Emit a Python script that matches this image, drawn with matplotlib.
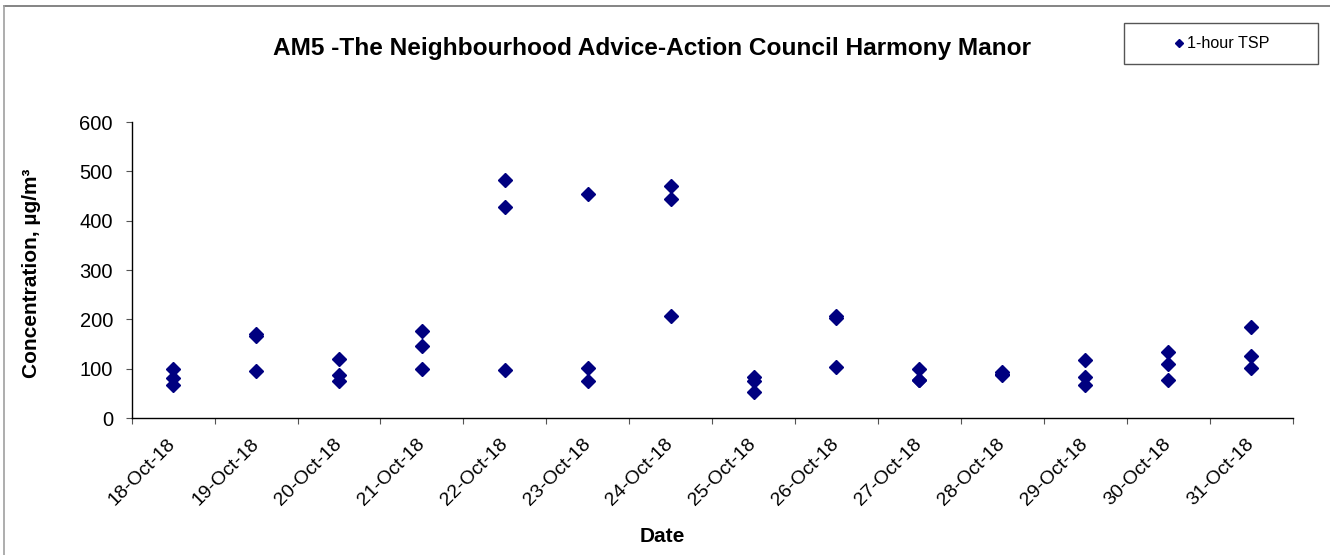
import matplotlib
matplotlib.use('Agg')
import matplotlib.pyplot as plt
from matplotlib.lines import Line2D
from matplotlib.patches import Rectangle
import numpy as np

plt.rcParams.update({'font.family': ['Liberation Sans', 'DejaVu Sans']})

dates = ['18-Oct-18', '19-Oct-18', '20-Oct-18', '21-Oct-18', '22-Oct-18',
         '23-Oct-18', '24-Oct-18', '25-Oct-18', '26-Oct-18', '27-Oct-18',
         '28-Oct-18', '29-Oct-18', '30-Oct-18', '31-Oct-18']
# three 1-hour readings per day (ug/m3)
tsp_1 = [99, 170, 120, 176, 482, 455, 470, 84, 206, 100, 93, 118, 133, 185]
tsp_2 = [82, 166, 88, 145, 428, 101, 443, 74, 202, 78, 90, 84, 110, 126]
tsp_3 = [66, 96, 75, 99, 97, 76, 207, 52, 104, 77, 88, 67, 77, 101]
yticks = [0, 100, 200, 300, 400, 500, 600]

W, H = 1330, 555
fig = plt.figure(figsize=(W/100, H/100), dpi=100)
ax = fig.add_axes([131.7/W, 1-418/H, (1292.5-131.7)/W, (418-122)/H])

navy = '#000080'
x = np.arange(len(dates))
for i, vals in enumerate([tsp_1, tsp_2, tsp_3]):
    ax.plot(x, vals, linestyle='none', marker='D', ms=7.6, color=navy,
            label='1-hour TSP' if i == 0 else None)

ax.set_xlim(-0.5, len(dates)-0.5)
ax.set_ylim(0, 600)
ax.set_yticks(yticks)
ax.set_xticks(np.arange(len(dates)+1)-0.5)
ax.set_xticklabels([])
ax.set_xticks(x, minor=True)
ax.set_xticklabels(dates, minor=True, rotation=45, ha='right', va='center',
                   rotation_mode='anchor', fontsize=14)
ax.tick_params(axis='x', which='minor', length=0, pad=17)
ax.tick_params(axis='x', which='major', length=4.5, width=0.8, color='#555555', direction='out')
ax.tick_params(axis='y', length=4.5, width=0.8, color='#555555', pad=9, labelsize=14.5)
for s in ['top', 'right']:
    ax.spines[s].set_visible(False)
ax.spines['left'].set_linewidth(1.0)
ax.spines['bottom'].set_linewidth(1.0)

fig.text(652/W, 1-48/H, 'AM5 -The Neighbourhood Advice-Action Council Harmony Manor',
         ha='center', va='center', fontsize=17.6, fontweight='bold')
fig.text(32/W, 1-273/H, 'Concentration, µg/m³', rotation=90, ha='center', va='center',
         fontsize=15, fontweight='bold')
fig.text(662/W, 1-537/H, 'Date', ha='center', va='center', fontsize=15, fontweight='bold')

# legend box
fig.patches.append(Rectangle((1124/W, 1-64/H), 194/W, 41/H, transform=fig.transFigure,
                             fill=False, edgecolor='#555555', linewidth=1.0))
h, l = ax.get_legend_handles_labels()
leg = fig.legend([Line2D([], [], linestyle='none', marker='D', ms=4.5, color=navy)], l,
                 loc='center', bbox_to_anchor=(1222/W, 1-44/H), frameon=False,
                 fontsize=11.6, handlelength=0.6, handletextpad=0.2)

# outer chart border
fig.lines.append(Line2D([4/W, 1], [1-6/H, 1-6/H], transform=fig.transFigure, color='#707070', lw=1.2))
fig.lines.append(Line2D([4/W, 4/W], [0, 1-6/H], transform=fig.transFigure, color='#a0a0a0', lw=1.2))

fig.savefig('out.png', dpi=100)
